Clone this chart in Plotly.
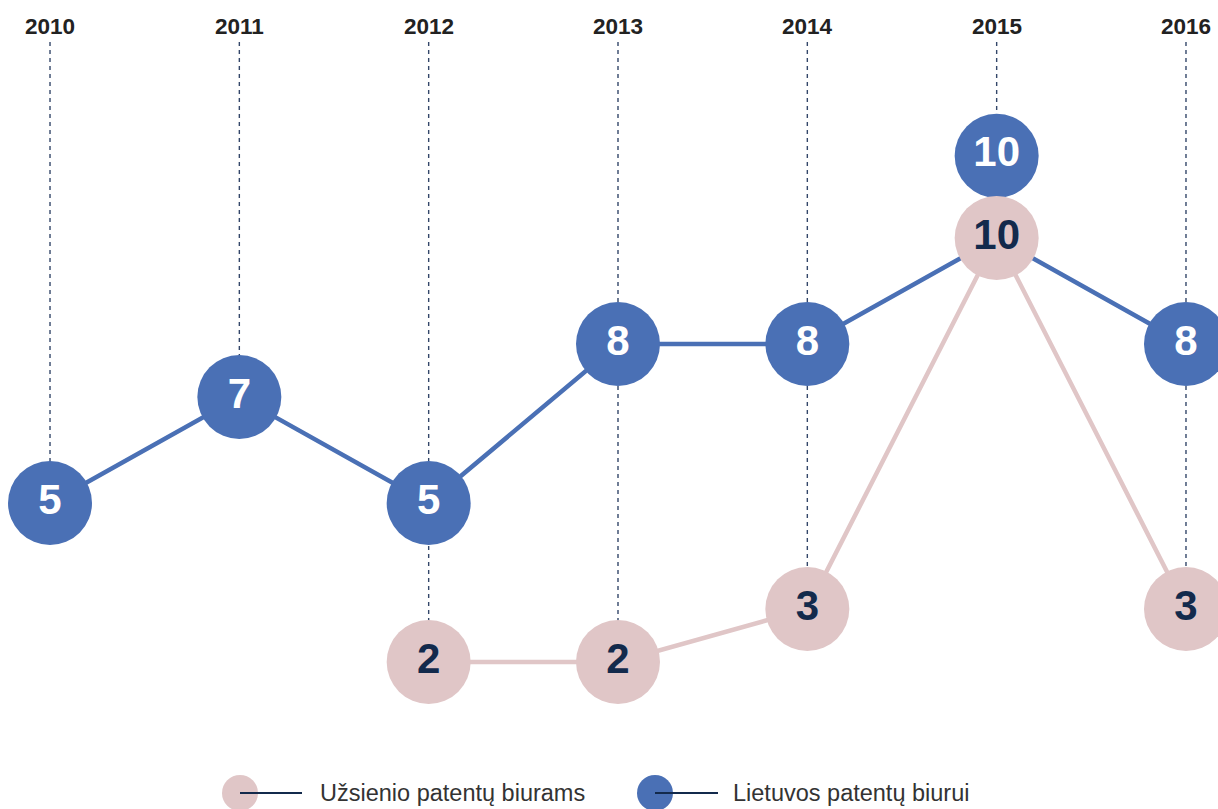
import plotly.graph_objects as go

# Data
years = [2010, 2011, 2012, 2013, 2014, 2015, 2016]
lt_values = [5, 7, 5, 8, 8, 10, 8]           # Lietuvos patentų biurui
foreign_years = [2012, 2013, 2014, 2015, 2016]
foreign_values = [2, 2, 3, 10, 3]            # Užsienio patentų biurams
legend_labels = ["Užsienio patentų biurams", "Lietuvos patentų biurui"]

# Styles
W, H = 1218, 809
BLUE = "#4a70b5"
PINK = "#e0c6c7"
NAVY = "#132a4c"
DASH = "#34476a"
FONT = "Liberation Sans, Arial, Helvetica, sans-serif"
MARKER = 84
LIFT = 1.55      # move a blue bubble up when it sits on a pink one
TOP = 13.7       # where the dashed guides start
PX_PER_UNIT = 53

foreign_map = dict(zip(foreign_years, foreign_values))
lt_marker_y = [v + LIFT if foreign_map.get(yr) == v else v for yr, v in zip(years, lt_values)]

fig = go.Figure()

# lines
fig.add_trace(go.Scatter(x=years, y=lt_values, mode="lines",
                         line=dict(color=BLUE, width=4.5), hoverinfo="skip"))
fig.add_trace(go.Scatter(x=foreign_years, y=foreign_values, mode="lines",
                         line=dict(color=PINK, width=4.5), hoverinfo="skip"))

# bubbles
fig.add_trace(go.Scatter(x=years, y=lt_marker_y, mode="markers+text",
                         marker=dict(size=MARKER, color=BLUE, line=dict(width=0)),
                         text=[str(v) for v in lt_values], textposition="middle center",
                         textfont=dict(family=FONT, size=42, color="white", weight="bold")))
fig.add_trace(go.Scatter(x=foreign_years, y=foreign_values, mode="markers+text",
                         marker=dict(size=MARKER, color=PINK, line=dict(width=0)),
                         text=[str(v) for v in foreign_values], textposition="middle center",
                         textfont=dict(family=FONT, size=42, color=NAVY, weight="bold")))

# dashed guides from the year label down to the lowest bubble
shapes = []
annotations = []
for yr, v in zip(years, lt_values):
    low = min(v, foreign_map.get(yr, v))
    shapes.append(dict(type="line", xref="x", yref="y", x0=yr, x1=yr, y0=TOP, y1=low,
                       line=dict(color=DASH, width=1.4, dash="4px,4px"), layer="below"))
    annotations.append(dict(x=yr, y=1 - 27 / H, xref="x", yref="paper", text="<b>%d</b>" % yr,
                            yanchor="middle", showarrow=False,
                            font=dict(family=FONT, size=22.5, color="#222222")))

# custom legend at the bottom
def px(x):
    return x / W

def py(y):
    return 1 - y / H

legend_items = [(PINK, 240, 302, 318, legend_labels[0]), (BLUE, 655, 718, 731, legend_labels[1])]
for color, cx, lx, tx, label in legend_items:
    r, cy = 18, 793
    shapes.append(dict(type="circle", xref="paper", yref="paper",
                       x0=px(cx - r), x1=px(cx + r), y0=py(cy + r), y1=py(cy - r),
                       fillcolor=color, line=dict(width=0)))
    shapes.append(dict(type="line", xref="paper", yref="paper",
                       x0=px(cx), x1=px(lx), y0=py(cy), y1=py(cy),
                       line=dict(color=NAVY, width=2)))
    annotations.append(dict(x=px(tx), y=py(cy), xref="paper", yref="paper", text=label,
                            xanchor="left", yanchor="middle", showarrow=False,
                            font=dict(family=FONT, size=23.5, color="#333333")))

fig.update_layout(
    width=W, height=H,
    margin=dict(l=0, r=0, t=0, b=0),
    paper_bgcolor="white", plot_bgcolor="white",
    showlegend=False,
    xaxis=dict(range=[2010 - 50 / 189.3, 2016 + 32 / 189.3], visible=False, fixedrange=True),
    yaxis=dict(range=[5 - 306 / PX_PER_UNIT, 5 + 503 / PX_PER_UNIT], visible=False, fixedrange=True),
    shapes=shapes,
    annotations=annotations,
)

# drop the browser's default page margin so the chart sits at the window's corner
fig.write_html("out.html", config={"displayModeBar": False},
               post_script="document.body.style.margin='0';document.body.style.overflow='hidden';")
